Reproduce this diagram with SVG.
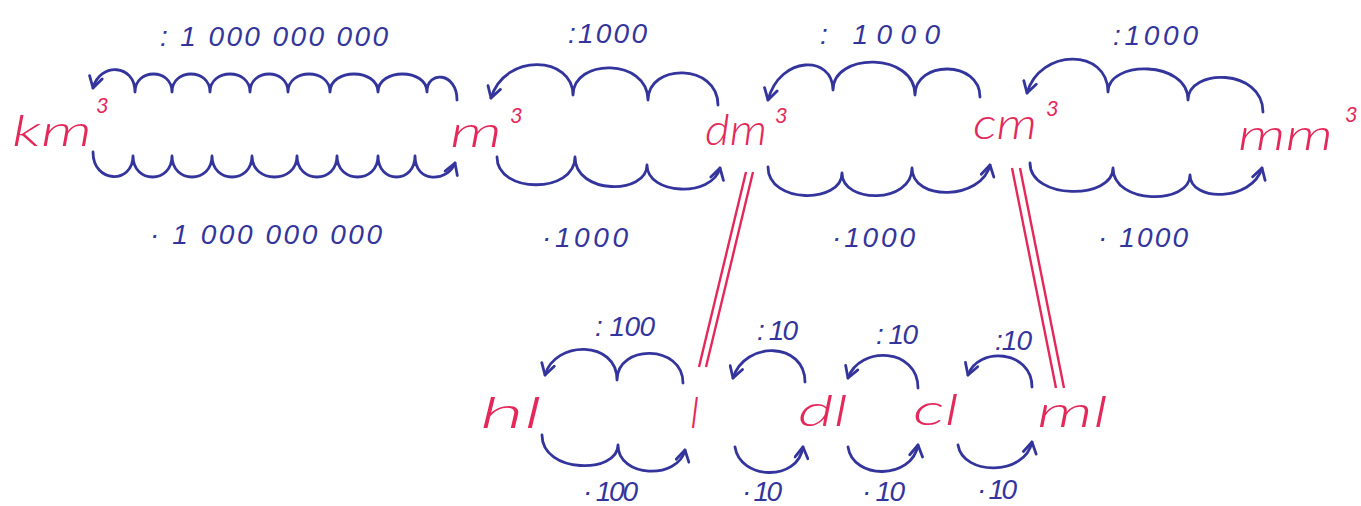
<svg xmlns="http://www.w3.org/2000/svg" width="1361" height="506" viewBox="0 0 1361 506">
<style>
.unit{font-family:"Lato","Open Sans","DejaVu Sans",sans-serif;font-style:italic;font-weight:300;fill:#e5285a;font-size:44px}
.sup{font-family:"Lato","Liberation Sans",sans-serif;font-style:italic;font-weight:400;fill:#e5285a;font-size:22px}
.num{font-family:"Liberation Sans","DejaVu Sans",sans-serif;font-style:italic;fill:#34359c;font-size:28px}
.arc{fill:none;stroke:#34359c;stroke-width:2.8;stroke-linecap:round;stroke-linejoin:round;marker-end:url(#ah)}
.eq{fill:none;stroke:#e5285a;stroke-width:2.4}
</style>
<defs>
<marker id="ah" markerUnits="userSpaceOnUse" viewBox="-13 -8 15 16" refX="0" refY="0" markerWidth="15" markerHeight="16" orient="auto">
<path d="M-11,-6.5 L0,0 L-11,6.5" fill="none" stroke="#34359c" stroke-width="2.8" stroke-linecap="round" stroke-linejoin="round"/>
</marker>
</defs>
<rect width="1361" height="506" fill="#ffffff"/>

<g id="connectors">
<!-- km3 <-> m3 -->
<path class="arc" d="M457,100 C457,72 427,70 427,92 C427,68 378,68 378,92 C378,68 330,68 330,92 C330,68 288,68 288,92 C288,68 250,68 250,92 C250,68 210,68 210,92 C210,68 172,68 172,92 C172,68 135,68 135,92 C135,64 100,62 93,88"/>
<path class="arc" d="M93,152 C93,184 133,184 133,156 C133,184 172,184 172,156 C172,184 212,184 212,156 C212,184 252,184 252,156 C252,184 297,184 297,156 C297,184 337,184 337,156 C337,184 378,184 378,156 C378,184 415,184 415,156 C415,184 448,182 455,163"/>
<text class="num" x="160" y="46" textLength="228" lengthAdjust="spacing">: 1 000 000 000</text>
<text class="num" x="150" y="244" textLength="232" lengthAdjust="spacing">· 1 000 000 000</text>

<!-- m3 <-> dm3 -->
<path class="arc" d="M718,105 C718,63 648,63 648,100 C648,58 573,58 573,95 C573,56 505,52 491,98"/>
<path class="arc" d="M497,157 C497,194 575,194 575,157 C575,195 647,195 647,165 C647,195 712,198 720,168"/>
<text class="num" x="568" y="43" textLength="79" lengthAdjust="spacing">:1000</text>
<text class="num" x="542" y="247" textLength="86" lengthAdjust="spacing">·1000</text>

<!-- dm3 <-> cm3 -->
<path class="arc" d="M980,97 C980,60 915,60 915,95 C915,52 833,52 833,90 C833,55 780,55 768,100"/>
<path class="arc" d="M768,167 C768,204 842,204 842,173 C842,204 912,204 912,168 C912,202 982,200 990,165"/>
<text class="num" x="820" y="44" textLength="120" lengthAdjust="spacing">: 1000</text>
<text class="num" x="832" y="247" textLength="83" lengthAdjust="spacing">·1000</text>

<!-- cm3 <-> mm3 -->
<path class="arc" d="M1263,112 C1263,68 1188,68 1188,100 C1188,60 1108,60 1108,92 C1108,48 1040,48 1027,93"/>
<path class="arc" d="M1030,163 C1030,200 1113,200 1113,168 C1113,205 1190,205 1190,175 C1190,202 1252,202 1262,168"/>
<text class="num" x="1113" y="45" textLength="85" lengthAdjust="spacing">:1000</text>
<text class="num" x="1098" y="247" textLength="90" lengthAdjust="spacing">· 1000</text>

<!-- hl <-> l -->
<path class="arc" d="M683,383 C683,344 617,344 617,380 C617,340 555,340 545,375"/>
<path class="arc" d="M542,435 C542,474 618,474 618,445 C618,478 678,480 685,450"/>
<text class="num" x="595" y="336" textLength="60" lengthAdjust="spacing">: 100</text>
<text class="num" x="583" y="501" textLength="55" lengthAdjust="spacing">· 100</text>

<!-- l <-> dl -->
<path class="arc" d="M805,382 C805,342 745,340 733,378"/>
<path class="arc" d="M735,447 C740,480 798,482 803,447"/>
<text class="num" x="757" y="340" textLength="41" lengthAdjust="spacing">: 10</text>
<text class="num" x="742" y="501" textLength="40" lengthAdjust="spacing">· 10</text>

<!-- dl <-> cl -->
<path class="arc" d="M918,388 C918,348 860,345 848,378"/>
<path class="arc" d="M848,447 C853,480 912,480 918,445"/>
<text class="num" x="876" y="344" textLength="42" lengthAdjust="spacing">: 10</text>
<text class="num" x="862" y="501" textLength="43" lengthAdjust="spacing">· 10</text>

<!-- cl <-> ml -->
<path class="arc" d="M1032,387 C1032,350 978,346 968,375"/>
<path class="arc" d="M958,445 C963,476 1025,476 1032,442"/>
<text class="num" x="995" y="350" textLength="37" lengthAdjust="spacing">:10</text>
<text class="num" x="977" y="499" textLength="40" lengthAdjust="spacing">· 10</text>

<!-- equivalences -->
<path class="eq" d="M746,172 L699,367 M753,172 L706,367"/>
<path class="eq" d="M1012,168 L1056,388 M1020,168 L1064,388"/>
</g>

<g id="km3"><text class="unit" x="12" y="146" textLength="80" lengthAdjust="spacingAndGlyphs">km</text><text class="sup" x="96" y="113">3</text></g>
<g id="m3"><text class="unit" x="450" y="147" textLength="52" lengthAdjust="spacingAndGlyphs">m</text><text class="sup" x="510" y="123">3</text></g>
<g id="dm3"><text class="unit" x="705" y="145" textLength="62" lengthAdjust="spacingAndGlyphs">dm</text><text class="sup" x="775" y="123">3</text></g>
<g id="cm3"><text class="unit" x="973" y="139" textLength="64" lengthAdjust="spacingAndGlyphs">cm</text><text class="sup" x="1046" y="116">3</text></g>
<g id="mm3"><text class="unit" x="1238" y="150" textLength="95" lengthAdjust="spacingAndGlyphs">mm</text><text class="sup" x="1345" y="122">3</text></g>
<g id="hl"><text class="unit" x="480" y="428" textLength="62" lengthAdjust="spacingAndGlyphs">hl</text></g>
<g id="l"><text class="unit" x="690" y="428">l</text></g>
<g id="dl"><text class="unit" x="798" y="426" textLength="50" lengthAdjust="spacingAndGlyphs">dl</text></g>
<g id="cl"><text class="unit" x="913" y="425" textLength="46" lengthAdjust="spacingAndGlyphs">cl</text></g>
<g id="ml"><text class="unit" x="1037" y="427" textLength="71" lengthAdjust="spacingAndGlyphs">ml</text></g>
</svg>
